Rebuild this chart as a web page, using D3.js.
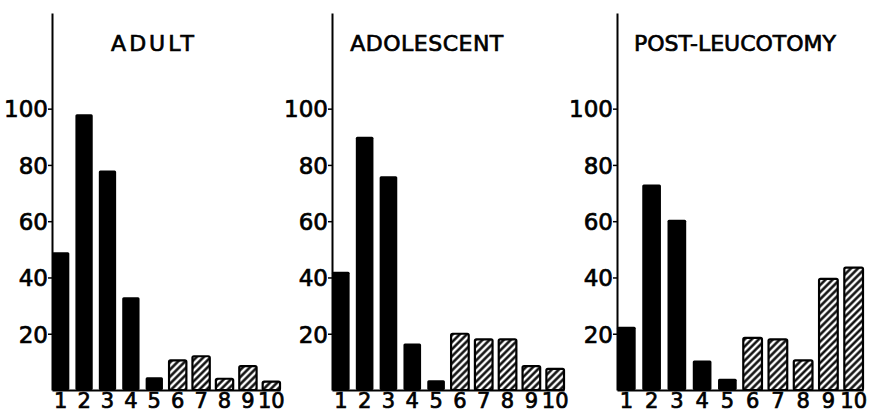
<!DOCTYPE html>
<html>
<head>
<meta charset="utf-8">
<script src="https://cdn.jsdelivr.net/npm/d3@7"></script>
<style>
  body { margin: 0; background: #fff; }
  svg { display: block; }
  text { font-family: "DejaVu Sans", sans-serif; fill: #000; stroke: #000; stroke-width: 0.7px; }
</style>
</head>
<body>
<script>
// data
var categories = [1, 2, 3, 4, 5, 6, 7, 8, 9, 10];
var kinds = ["solid", "solid", "solid", "solid", "solid", "hatched", "hatched", "hatched", "hatched", "hatched"];
var adult = [49, 98, 78, 33, 4.5, 10.5, 12, 4, 8.5, 3];
var adolescent = [42, 90, 76, 16.5, 3.5, 20, 18, 18, 8.5, 7.5];
var postLeucotomy = [22.5, 73, 60.5, 10.5, 4, 18.5, 18, 10.5, 39.5, 43.5];
var titles = ["ADULT", "ADOLESCENT", "POST-LEUCOTOMY"];
var yTicks = [20, 40, 60, 80, 100];

var width = 870, height = 413;

var svg = d3.select("body").append("svg")
    .attr("width", width)
    .attr("height", height);

// hatch pattern for bars 6-10
var pat = svg.append("defs").append("pattern")
    .attr("id", "hatch")
    .attr("patternUnits", "userSpaceOnUse")
    .attr("width", 5)
    .attr("height", 5)
    .attr("patternTransform", "rotate(45)");
pat.append("rect").attr("width", 5).attr("height", 5).attr("fill", "#fff");
pat.append("line")
    .attr("x1", 1.5).attr("y1", 0).attr("x2", 1.5).attr("y2", 5)
    .attr("stroke", "#000").attr("stroke-width", 2.4);

var panels = [
    {title: titles[0], values: adult, left: 52, right: 280, titleX: 154, spacing: 3},
    {title: titles[1], values: adolescent, left: 332, right: 564, titleX: 427, spacing: 0.5},
    {title: titles[2], values: postLeucotomy, left: 617, right: 863, titleX: 735, spacing: 0}
];

var y = d3.scaleLinear()
    .domain([0, 134])
    .range([390, 13]);

panels.forEach(function(p) {
    var x = d3.scaleBand()
        .domain(categories)
        .range([p.left, p.right])
        .paddingInner(0.26)
        .paddingOuter(0);

    var g = svg.append("g");

    // bars
    g.selectAll(".bar")
        .data(categories)
        .enter().append("rect")
        .attr("class", "bar")
        .attr("x", function(d) { return x(d); })
        .attr("width", x.bandwidth())
        .attr("y", function(d, i) { return y(p.values[i]); })
        .attr("height", function(d, i) { return y(0) - y(p.values[i]); })
        .attr("rx", 1.5)
        .attr("fill", function(d, i) { return kinds[i] == "hatched" ? "url(#hatch)" : "#000"; })
        .attr("stroke", "#000")
        .attr("stroke-width", function(d, i) { return kinds[i] == "hatched" ? 2.2 : 0; });

    // y axis
    var ya = g.append("g")
        .attr("transform", "translate(" + p.left + ",0)")
        .call(d3.axisLeft(y).tickValues(yTicks).tickSize(4).tickSizeOuter(0).tickPadding(0));
    ya.select(".domain").attr("stroke-width", 2);
    ya.selectAll(".tick line").attr("stroke-width", 1.5);
    ya.selectAll("text").style("font-size", "23px").attr("dy", "0.36em");

    // x axis
    var xa = g.append("g")
        .attr("transform", "translate(0," + y(0) + ")")
        .call(d3.axisBottom(x).tickSize(0).tickSizeOuter(0).tickPadding(3));
    xa.select(".domain").attr("stroke-width", 2);
    xa.selectAll("text").style("font-size", "21px");

    // title
    g.append("text")
        .attr("x", p.titleX)
        .attr("y", 51)
        .attr("text-anchor", "middle")
        .style("font-size", "22px")
        .style("letter-spacing", p.spacing + "px")
        .text(p.title);
});
</script>
</body>
</html>
